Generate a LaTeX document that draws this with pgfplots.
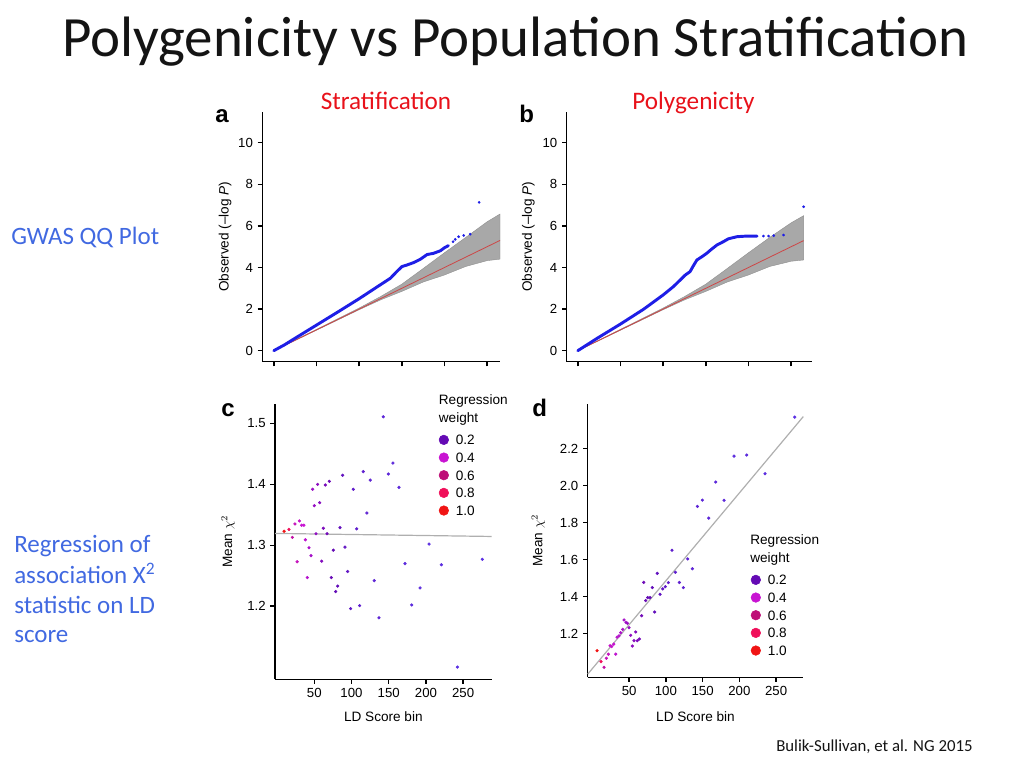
\documentclass[border=0pt]{standalone}
\usepackage{pgfplots}
\pgfplotsset{compat=1.18}
\usepackage{pgfplotstable}
\usepackage{fontspec}
\setmainfont{Carlito}
\newfontfamily\arialf{Liberation Sans}
\newcommand{\lbl}{\arialf\fontsize{10.2}{12}\selectfont}
\newcommand{\tlbl}{\arialf\fontsize{9.9}{11}\selectfont}
\definecolor{titlecol}{RGB}{20,20,20}
\definecolor{slidered}{RGB}{232,17,26}
\definecolor{slideblue}{RGB}{65,105,225}
\definecolor{qqblue}{RGB}{30,30,230}
\definecolor{qqred}{RGB}{205,70,70}
\definecolor{band}{RGB}{168,168,168}
\definecolor{regline}{RGB}{175,175,175}
\definecolor{wA}{RGB}{100,10,180}
\definecolor{wB}{RGB}{200,20,210}
\definecolor{wC}{RGB}{190,15,120}
\definecolor{wD}{RGB}{240,15,90}
\definecolor{wE}{RGB}{240,20,20}

\pgfplotsset{
  colormap={wmap}{rgb255=(90,55,235) rgb255=(100,10,180) rgb255=(200,20,210) rgb255=(190,15,120) rgb255=(240,15,90) rgb255=(240,20,20)},
  panel/.style={
    scale only axis, anchor=south west,
    axis x line*=bottom, axis y line*=left,
    axis line style={black, line width=1.1pt, -},
    tick align=outside, major tick length=3.5pt,
    tick style={black, line width=1.1pt},
    every tick label/.append style={font=\tlbl},
    every axis label/.append style={font=\lbl},
    /pgf/number format/assume math mode=true,
    clip=false,
  },
  legimg/.style={legend image code/.code={\fill[#1] (0pt,0pt) circle (3.6pt); \path (-3.6pt,0pt) (7.3pt,0pt);}},
}

\pgfplotstableread{
x y w
9.4 1.323 1.0
16 1.326 0.8
20.5 1.313 0.5
24 1.335 0.45
27 1.273 0.45
30 1.340 0.42
33 1.333 0.4
36 1.333 0.4
38 1.309 0.38
40.6 1.247 0.36
42.9 1.296 0.34
45.6 1.283 0.33
47.8 1.392 0.31
50 1.365 0.3
52.3 1.319 0.29
54.5 1.400 0.28
57.2 1.370 0.27
59.9 1.274 0.26
62.1 1.328 0.25
64.8 1.399 0.24
67.1 1.319 0.23
70.2 1.405 0.22
72.9 1.247 0.21
75.6 1.292 0.2
78.7 1.224 0.19
81.4 1.233 0.18
84.5 1.329 0.17
88.1 1.415 0.16
91.2 1.297 0.15
94.8 1.257 0.14
98.8 1.196 0.13
102.4 1.392 0.12
106.9 1.327 0.11
110.9 1.201 0.1
115.8 1.421 0.1
120.7 1.353 0.09
125.2 1.407 0.09
130.6 1.242 0.08
136.9 1.181 0.08
142.7 1.511 0.07
149.5 1.417 0.07
155.7 1.435 0.06
163.8 1.395 0.06
171.9 1.270 0.05
180.9 1.202 0.05
192.1 1.230 0.05
204.2 1.302 0.04
220.8 1.268 0.04
242.3 1.100 0.03
275.8 1.277 0.03
}\cdata

\pgfplotstableread{
x y w
6.4 1.108 1.0
11.8 1.049 0.8
15.9 1.018 0.5
19.1 1.067 0.45
21.8 1.089 0.44
24.1 1.135 0.42
26.3 1.130 0.41
29.1 1.143 0.4
31.8 1.089 0.38
33.6 1.181 0.37
36.3 1.188 0.36
38.6 1.205 0.35
41.3 1.223 0.34
43.1 1.274 0.33
45.8 1.261 0.32
47.7 1.256 0.31
49.9 1.232 0.3
52.2 1.191 0.29
54.4 1.133 0.28
56.7 1.162 0.27
59.0 1.209 0.26
61.2 1.162 0.25
64.0 1.171 0.24
67.1 1.297 0.23
69.9 1.477 0.22
72.6 1.379 0.21
75.3 1.395 0.2
78.5 1.395 0.19
81.6 1.449 0.18
84.8 1.317 0.17
88.4 1.526 0.16
92.1 1.413 0.15
95.7 1.442 0.14
99.3 1.454 0.13
103.4 1.476 0.12
108.4 1.651 0.11
112.9 1.532 0.1
118.4 1.477 0.1
123.8 1.449 0.09
129.7 1.604 0.09
136.1 1.551 0.08
142.9 1.888 0.08
149.7 1.922 0.07
158.3 1.825 0.07
167.8 2.020 0.06
179.2 1.921 0.06
192.8 2.160 0.05
210 2.166 0.05
234.9 2.065 0.04
275.3 2.371 0.03
}\ddata

\begin{document}
\begin{tikzpicture}
\path[use as bounding box] (0,0) rectangle (768pt,576pt);

% slide texts
\node[anchor=base west, inner sep=0, font=\fontsize{42.7}{50}\selectfont, text=titlecol] at (46.3pt,533.25pt) {Polygenicity vs Population Stratification};
\node[anchor=base, inner sep=0, font=\fontsize{18.9}{22}\selectfont, text=slidered] at (289.5pt,493.5pt) {Stratification};
\node[anchor=base, inner sep=0, font=\fontsize{18.9}{22}\selectfont, text=slidered] at (520.1pt,493.5pt) {Polygenicity};
\node[anchor=base west, inner sep=0, font=\fontsize{18.75}{22}\selectfont, text=slideblue] at (8.25pt,392.25pt) {GWAS QQ Plot};
\node[anchor=base west, inner sep=0, font=\fontsize{18.75}{22}\selectfont, text=slideblue] at (10.5pt,161.25pt) {Regression of};
\node[anchor=base west, inner sep=0, font=\fontsize{18.75}{22}\selectfont, text=slideblue] at (10.5pt,138.75pt) {association X\textsuperscript{2}};
\node[anchor=base west, inner sep=0, font=\fontsize{18.75}{22}\selectfont, text=slideblue] at (10.5pt,116.25pt) {statistic on LD};
\node[anchor=base west, inner sep=0, font=\fontsize{18.75}{22}\selectfont, text=slideblue] at (10.5pt,94.5pt) {score};
\node[anchor=base west, inner sep=0, font=\fontsize{12.6}{15}\selectfont, text=titlecol] at (582pt,12.75pt) {Bulik-Sullivan, et al. NG 2015};

% panel letters
\node[anchor=base west, inner sep=0, font=\arialf\bfseries\fontsize{18}{20}\selectfont] at (161.25pt,483.75pt) {a};
\node[anchor=base west, inner sep=0, font=\arialf\bfseries\fontsize{18}{20}\selectfont] at (389.25pt,483.75pt) {b};
\node[anchor=base west, inner sep=0, font=\arialf\bfseries\fontsize{18}{20}\selectfont] at (165.75pt,263.5pt) {c};
\node[anchor=base west, inner sep=0, font=\arialf\bfseries\fontsize{18}{20}\selectfont] at (399pt,263.5pt) {d};

\begin{scope}[font=\tlbl]
% ---------- panel a
\begin{axis}[panel, at={(196.73pt,304.73pt)}, width=178.28pt, height=187.5pt,
  xmin=-0.27, xmax=5.3, ymin=-0.53, ymax=11.49,
  xtick={0,1,2,3,4,5}, xticklabels={}, ytick={0,2,4,6,8,10},
  ylabel={\lbl Observed (–log {\itshape P})},
  every axis y label/.style={at={(axis description cs:-0.157,0.5)}, rotate=90, anchor=center},
]
\addplot[fill=band, draw=band!85!black, line width=0.3pt] coordinates {
 (0,0) (2,2.05) (2.5,2.6) (3,3.2) (3.5,3.95) (4,4.71) (4.5,5.45) (5,6.2) (5.3,6.57)
 (5.3,4.4) (5,4.33) (4.5,4.05) (4,3.64) (3.5,3.3) (3,2.85) (2.5,2.44) (2,1.97) (0,0)};
\addplot[qqred, line width=0.6pt] coordinates {(0,0) (5.3,5.3)};
\addplot[qqblue, line width=2.2pt, line join=round, line cap=round] coordinates {
 (0,0) (0.25,0.28) (0.5,0.6) (1,1.23) (1.5,1.86) (2,2.5) (2.49,3.16) (2.73,3.48) (2.88,3.8)
 (3.0,4.04) (3.12,4.12) (3.27,4.23) (3.43,4.39) (3.59,4.62) (3.74,4.68) (3.9,4.8) (4.0,4.95) (4.09,5.05)};
\addplot[only marks, mark=*, mark size=0.8pt, qqblue] coordinates {
 (4.2,5.24) (4.25,5.35) (4.33,5.48) (4.45,5.54) (4.6,5.6) (4.81,7.13)};
\end{axis}

% ---------- panel b
\begin{axis}[panel, at={(425.03pt,304.73pt)}, width=183.75pt, height=187.5pt,
  xmin=-0.26, xmax=5.48, ymin=-0.53, ymax=11.49,
  xtick={0,1,2,3,4,5}, xticklabels={}, ytick={0,2,4,6,8,10},
  ylabel={\lbl Observed (–log {\itshape P})},
  every axis y label/.style={at={(axis description cs:-0.157,0.5)}, rotate=90, anchor=center},
]
\addplot[fill=band, draw=band!85!black, line width=0.3pt] coordinates {
 (0,0) (2,2.05) (2.5,2.6) (3,3.2) (3.5,3.95) (4,4.71) (4.5,5.45) (5,6.15) (5.29,6.49)
 (5.29,4.36) (5,4.3) (4.5,4.05) (4,3.64) (3.5,3.3) (3,2.85) (2.5,2.44) (2,1.97) (0,0)};
\addplot[qqred, line width=0.6pt] coordinates {(0,0) (5.29,5.29)};
\addplot[qqblue, line width=2.2pt, line join=round, line cap=round] coordinates {
 (0,0) (0.45,0.59) (1.0,1.28) (1.54,1.99) (2.0,2.68) (2.24,3.08) (2.4,3.4) (2.52,3.64)
 (2.63,3.8) (2.71,4.09) (2.79,4.36) (2.91,4.52) (3.02,4.68) (3.14,4.89) (3.26,5.08)
 (3.41,5.24) (3.53,5.38) (3.73,5.48) (3.96,5.51) (4.2,5.51)};
\addplot[only marks, mark=*, mark size=0.8pt, qqblue] coordinates {
 (4.35,5.51) (4.47,5.51) (4.59,5.53) (4.82,5.56) (5.29,6.92)};
\end{axis}

% ---------- panel c
\begin{axis}[panel, at={(206.25pt,66.53pt)}, width=162.53pt, height=206.48pt,
  xmin=-2.8, xmax=288.4, ymin=1.08, ymax=1.532,
  xtick={50,100,150,200,250}, ytick={1.2,1.3,1.4,1.5}, yticklabels={1.2,1.3,1.4,1.5},
  xlabel={\lbl LD Score bin}, ylabel={\lbl Mean $\chi^2$},
  every axis x label/.style={at={(axis description cs:0.5,-0.137)}, anchor=center},
  every axis y label/.style={at={(axis description cs:-0.217,0.5)}, rotate=90, anchor=center},
  colormap name=wmap, point meta min=0, point meta max=1,
  legend style={at={(axis description cs:0.7545,0.896)}, anchor=north west, draw=none, fill=none,
    inner sep=0pt, font=\lbl, row sep=2.75pt,
    nodes={inner sep=1.5pt, text height=7.5pt, text depth=0pt}},
  legend cell align=left,
]
\addplot[regline, line width=0.9pt, forget plot] coordinates {(-2.8,1.3195) (288.4,1.3145)};
\addplot[scatter, only marks, mark=*, mark size=1.0pt, point meta=explicit,
  scatter/use mapped color={draw=mapped color, fill=mapped color}, forget plot]
  table[x=x, y=y, meta=w] {\cdata};
\addlegendimage{legimg=wA}\addlegendentry{0.2}
\addlegendimage{legimg=wB}\addlegendentry{0.4}
\addlegendimage{legimg=wC}\addlegendentry{0.6}
\addlegendimage{legimg=wD}\addlegendentry{0.8}
\addlegendimage{legimg=wE}\addlegendentry{1.0}
\node[anchor=north west, align=left, inner sep=0pt, font=\arialf\fontsize{10.2}{13.5}\selectfont]
  at (axis description cs:0.755,1.036) {Regression\\weight};
\end{axis}

% ---------- panel d
\begin{axis}[panel, at={(440.78pt,68.03pt)}, width=161.7pt, height=204.98pt,
  xmin=-6.3, xmax=287, ymin=0.964, ymax=2.442,
  xtick={50,100,150,200,250}, ytick={1.2,1.4,1.6,1.8,2.0,2.2}, yticklabels={1.2,1.4,1.6,1.8,2.0,2.2},
  xlabel={\lbl LD Score bin}, ylabel={\lbl Mean $\chi^2$},
  every axis x label/.style={at={(axis description cs:0.5,-0.145)}, anchor=center},
  every axis y label/.style={at={(axis description cs:-0.229,0.5)}, rotate=90, anchor=center},
  colormap name=wmap, point meta min=0, point meta max=1,
  legend style={at={(axis description cs:0.755,0.383)}, anchor=north west, draw=none, fill=none,
    inner sep=0pt, font=\lbl, row sep=2.75pt,
    nodes={inner sep=1.5pt, text height=7.5pt, text depth=0pt}},
  legend cell align=left,
]
\addplot[regline, line width=0.9pt, forget plot] coordinates {(-6.3,0.981) (287,2.374)};
\addplot[scatter, only marks, mark=*, mark size=1.0pt, point meta=explicit,
  scatter/use mapped color={draw=mapped color, fill=mapped color}, forget plot]
  table[x=x, y=y, meta=w] {\ddata};
\addlegendimage{legimg=wA}\addlegendentry{0.2}
\addlegendimage{legimg=wB}\addlegendentry{0.4}
\addlegendimage{legimg=wC}\addlegendentry{0.6}
\addlegendimage{legimg=wD}\addlegendentry{0.8}
\addlegendimage{legimg=wE}\addlegendentry{1.0}
\node[anchor=north west, align=left, inner sep=0pt, font=\arialf\fontsize{10.2}{13.5}\selectfont]
  at (axis description cs:0.753,0.524) {Regression\\weight};
\end{axis}
\end{scope}
\end{tikzpicture}
\end{document}
